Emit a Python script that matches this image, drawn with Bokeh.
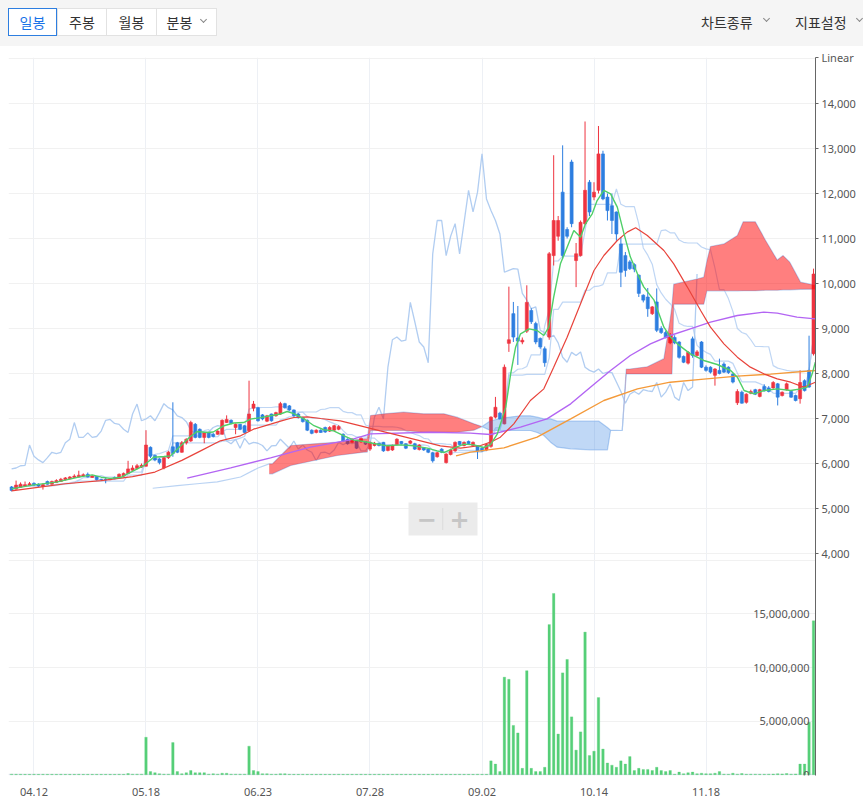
import numpy as np
import pandas as pd
from bokeh.plotting import figure
from bokeh.models import (Range1d, LinearAxis, FixedTicker, NumeralTickFormatter, Grid,
                          Label, BoxAnnotation, ColumnDataSource, Div)
from bokeh.layouts import column
from bokeh.embed import file_html
from bokeh.resources import INLINE

# ---------------- data ----------------
tab_labels = ["일봉", "주봉", "월봉", "분봉"]
menu_labels = ["차트종류", "지표설정"]

date_label_days = [5, 30, 55, 80, 105, 130, 155]
date_labels = ["04.12", "05.18", "06.23", "07.28", "09.02", "10.14", "11.18"]

price_ticks = [4000, 5000, 6000, 7000, 8000, 9000, 10000, 11000, 12000, 13000, 14000]
vol_label_ticks = [0, 5000000, 10000000, 15000000]
vol_grid_ticks = [0, 5000000, 10000000, 15000000, 20000000]

opens = [5480,5430,5470,5500,5510,5560,5540,5490,5600,5540,
         5580,5600,5640,5660,5690,5700,5720,5760,5690,5710,
         5650,5650,5640,5690,5680,5720,5780,5850,5890,5920,
         5940,6360,6180,6100,5900,6130,6370,6460,6250,6460,
         6500,6870,6760,6580,6690,6650,6650,6650,6910,6960,
         6800,6870,6840,6730,7230,7240,7080,6940,7100,7060,
         7100,7330,7280,7190,7100,7020,6960,6740,6690,6740,
         6800,6720,6740,6760,6650,6540,6470,6500,6480,6490,
         6320,6400,6450,6470,6290,6300,6420,6490,6440,6450,
         6440,6310,6350,6320,6240,6150,6320,6020,6200,6280,
         6490,6400,6490,6400,6390,6340,6300,6380,7030,7120,
         6880,8670,9330,8790,8700,8940,9400,9110,8780,8550,
         8810,10620,11050,12030,11200,12700,10510,10620,11330,12250,
         11920,12070,12880,11920,11730,11590,10880,10620,10480,10420,
         10185,9740,9700,9330,9590,9000,8910,8680,8800,8700,
         8380,8230,8770,8400,8700,8140,8140,7960,8070,8210,
         8140,7990,7350,7585,7360,7560,7640,7490,7710,7680,
         7680,7770,7510,7640,7600,7510,7440,7840,8070,8440]
highs = [5500,5620,5580,5600,5590,5580,5560,5560,5620,5620,
         5650,5680,5700,5720,5760,5840,5780,5800,5740,5720,
         5660,5700,5680,5710,5780,5800,6060,5960,5990,6000,
         6740,6380,6200,6120,6150,6280,7360,6480,6500,6560,
         6950,6900,6780,6700,6700,6680,6740,6980,7070,6980,
         6890,6880,6850,7840,7390,7260,7100,7080,7110,7150,
         7370,7350,7300,7200,7120,7040,6980,6760,6760,6760,
         6820,6830,6860,6850,6670,6560,6560,6520,6580,6500,
         6490,6480,6460,6480,6410,6420,6560,6500,6450,6520,
         6460,6430,6360,6330,6260,6260,6340,6230,6330,6490,
         6500,6490,6510,6490,6410,6360,6450,7050,7480,7150,
         8200,9930,9590,9500,8800,9960,9450,9150,8800,8600,
         10700,12850,11500,13070,11250,12750,10900,11400,13600,12300,
         12250,13500,12950,12000,12000,11600,11030,10700,10520,10450,
         10200,9760,9900,9500,9890,9050,8950,8900,8850,8720,
         8400,8500,8820,8520,8720,8180,8160,8120,8330,8250,
         8160,8000,7650,7620,7560,7640,7660,7660,7760,7720,
         7830,7790,7600,7800,7630,7530,8070,7870,8840,10330]
lows = [5380,5420,5460,5480,5500,5500,5480,5420,5530,5530,
        5570,5590,5620,5650,5680,5690,5700,5690,5680,5620,
        5620,5560,5630,5650,5670,5700,5770,5840,5870,5900,
        5930,6120,6050,5980,5870,6100,6150,6230,6240,6420,
        6480,6560,6560,6450,6560,6580,6640,6640,6900,6870,
        6650,6740,6680,6700,7160,6930,6960,6920,6930,7040,
        7080,7220,7170,7040,7000,6910,6720,6650,6670,6680,
        6680,6700,6720,6740,6480,6420,6450,6320,6460,6410,
        6280,6380,6380,6260,6270,6280,6400,6420,6320,6430,
        6300,6290,6280,6230,6020,6130,6230,6000,6180,6260,
        6400,6380,6420,6380,6100,6260,6280,6350,7000,6980,
        6870,8480,8700,8190,8650,8900,9100,8650,8550,8150,
        8750,10400,10950,10550,11000,11250,9920,10600,11300,11500,
        11850,12000,11850,11400,11100,10950,9920,10150,10300,10250,
        9700,9580,9260,9300,8920,8880,8780,8650,8650,8330,
        8230,8200,8350,8380,8120,8040,8000,7730,7980,8010,
        7990,7780,7300,7330,7330,7540,7520,7470,7600,7580,
        7660,7290,7490,7620,7460,7380,7330,7600,7680,8400]
closes = [5400,5520,5540,5530,5550,5520,5500,5530,5540,5600,
          5620,5650,5680,5700,5720,5740,5750,5700,5720,5640,
          5640,5640,5660,5660,5760,5780,5880,5900,5950,5960,
          6410,6160,6080,6020,6130,6250,6220,6250,6460,6540,
          6910,6580,6580,6680,6580,6600,6720,6960,6980,6890,
          6870,6760,6690,7100,7320,6950,6990,7060,6950,7130,
          7330,7240,7190,7060,7020,6930,6740,6670,6740,6690,
          6700,6800,6840,6820,6500,6440,6540,6340,6560,6430,
          6470,6450,6400,6280,6390,6400,6540,6440,6340,6500,
          6320,6410,6300,6250,6060,6240,6250,6210,6300,6470,
          6420,6470,6440,6470,6280,6280,6420,7030,7250,6990,
          8140,8750,8810,8720,8740,9580,9150,8700,8590,8240,
          10660,11400,11400,10620,11050,11330,10660,11360,12070,11590,
          12030,12880,11880,11620,11400,11100,10250,10290,10330,10320,
          9780,9630,9440,9480,8960,8910,8800,8850,8680,8360,
          8250,8470,8400,8480,8140,8070,8030,8100,8000,8030,
          8020,7810,7600,7340,7540,7600,7540,7640,7615,7600,
          7800,7475,7585,7770,7475,7400,7800,7620,7700,10210]
volumes_k = [60,50,50,40,40,50,40,50,40,40,
             40,50,40,40,40,50,40,40,40,40,
             40,40,40,40,50,40,120,60,60,60,
             3500,300,200,100,60,60,3000,300,100,200,
             400,200,200,200,60,100,60,150,150,60,
             60,60,60,2670,400,300,100,100,50,50,
             100,100,50,40,40,50,40,40,40,50,
             40,40,40,50,40,40,40,40,50,40,
             40,40,50,40,40,40,50,40,40,40,
             40,50,40,40,40,50,40,40,40,40,
             50,40,40,40,50,40,40,1300,1000,300,
             9100,8900,4600,3900,600,9700,600,300,300,700,
             14000,16900,3800,9500,10750,5400,2300,4000,13300,1800,
             2200,7200,2400,1100,900,700,1300,1000,1700,400,
             600,500,500,400,700,400,300,400,50,250,
             100,200,250,100,150,100,100,150,300,60,
             50,150,60,120,50,60,60,50,50,60,
             70,100,80,120,60,80,1000,1000,4900,14350]

# moving averages (day index, value)
ma5_days = [0,5,10,15,18,20,22,24.5,27.3,29.5,31.7,34,35.5,37.7,39.9,41.4,43.7,45,47.4,49.6,
            51.8,53.3,55.6,57.8,60,61.5,63,65.2,67.5,69.7,71.9,74.2,76.4,78.6,80.9,83.8,86.8,89.8,92.8,95,
            96.5,98.7,101,103.2,105.4,106.9,108.4,110.3,111.4,112.5,113.6,115.5,117.3,118.8,119.9,
            121,122.5,124,125.5,127,128.1,129.6,130.7,132.2,133.7,135.2,136.7,138.1,139.7,141.1,
            143.4,145.6,147.1,148.6,151.5,154.5,157.5,160.5,162,163.5,165.7,168,170.9,173.9,176.1,
            177.6,178.7,179.4]
ma5_vals = [5437,5526,5585,5696,5748,5696,5670,5696,5844,5955,6140,6156,6170,6390,6600,6710,6690,6700,6840,6900,
            6910,6985,7020,7060,7100,7155,7110,7000,6840,6750,6726,6615,6519,6490,6444,6393,6415,6393,6341,6281,
            6244,6341,6430,6415,6356,6420,6652,7252,7993,8585,8881,8993,8955,8844,9030,
            9696,10437,10807,11178,11030,11326,11548,11844,12067,11992,11696,11104,10593,10215,9926,
            9630,9030,8807,8659,8437,8289,8200,8067,7919,7622,7548,7622,7659,7622,7659,
            7696,7993,8252]
ma20_days = [0,5,12,20,27,32,38,42.2,46.6,51.1,54,57.8,60.8,63,66,69,73.4,77.9,82.3,86.8,
             91.3,95.7,100.2,104.7,106.9,109.1,112.1,115.8,118.8,121,124,127,130,132.2,135.2,
             137.4,139.3,141.9,145.6,147.8,150.8,153.8,156,159,162,164.9,167.9,170.9,173.9,176.8,179.4]
ma20_vals = [5390,5460,5550,5620,5710,5810,6070,6281,6504,6615,6763,6874,6963,7022,7037,7000,6948,6837,6726,6615,
             6504,6393,6341,6400,6474,6585,6881,7400,7659,8141,8807,9548,10289,10622,10956,
             11141,11237,11067,10733,10437,9926,9400,9030,8659,8363,8141,7993,7881,7807,7696,7807]
ma60_days = [39.2,48.9,57.8,66.7,75.6,80.1,93.5,102.4,106.9,113.6,119.5,124.8,129.2,133.7,138.1,
             142.6,147,151.5,156,162,167.9,170.9,175.3,179.4]
ma60_vals = [5674,5904,6126,6363,6526,6659,6696,6674,6644,6807,6993,7326,7696,8067,8400,
             8659,8844,8993,9141,9289,9363,9341,9252,9215]
ma120_days = [99.2,102.4,109.9,117.3,124.8,132.2,139.7,147,154.5,162,169.4,179.4]
ma120_vals = [6170,6252,6348,6585,6993,7400,7659,7807,7874,7941,7985,8067]

# Ichimoku leading spans
span_a_pre_days = [31.5, 37, 41.4, 45.9, 51.1, 55]
span_a_pre_vals = [5450, 5510, 5550, 5590, 5700, 5900]
span_days = [57.5,58.2,62.3,67.5,72.7,78.6,79.4,80.1,83.1,87.5,92,96.5,99.4,103.2,105.0,106.9,109.9,113.6,115.8,
             117.3,118.8,120.3,121.8,124.8,129.2,131.1,133.0,133.7,136.3,137.2,138,141.9,145.6,147.0,147.4,
             147.8,153.0,154.5,155.2,156.0,159.0,162.0,163.3,166.0,168.3,170.9,172.2,173.7,176.1,179.4]
span_a = [5993,5993,6400,6437,6474,6548,6550,7067,7104,7141,7104,7104,7030,6881,6820,6733,6733,6733,6733,
          6690,6622,6474,6363,6326,6304,6304,6304,6733,6733,8100,8100,8150,8330,9200,9500,
          9985,10100,10141,10500,10822,10880,11067,11370,11370,10956,10520,10620,10474,10030,9960]
span_b = [5770,5770,5955,6067,6178,6252,6255,6733,6733,6733,6696,6696,6696,6740,6820,6950,7015,7059,7059,
          7030,6993,6993,6941,6941,6941,6941,6800,6740,6733,7990,7990,7990,7990,7990,7990,
          9541,9541,9541,9837,9837,9837,9837,9840,9840,9850,9850,9860,9860,9870,9874]

# ---------------- styling ----------------
RED = "#ee3440"
BLUE = "#2d7ee0"
VOL_GREEN = "#56cf78"
LIGHT_BLUE = "#a9c8f0"
FONT = "Noto Sans"
KFONT = "Noto Sans CJK KR"
W = 863
BAR_H = 46

# ---------------- top bar (HTML) ----------------
def chevron(left, top):
    return ('<span style="position:absolute;left:%dpx;top:%dpx;width:5px;height:5px;z-index:5;'
            'border-right:1px solid #888;border-bottom:1px solid #888;transform:rotate(45deg);"></span>'
            % (left, top))

tab_left = [8, 57, 106, 156]
tab_right = [57, 106, 156, 216]
parts = ['<div style="position:relative;width:%dpx;height:%dpx;background:#f5f5f5;'
         'font-family:\'%s\';overflow:hidden;">' % (W, BAR_H, KFONT)]
for i, (lab, l, r) in enumerate(zip(tab_labels, tab_left, tab_right)):
    sel = i == 0
    border = "1px solid #2d7ee0" if sel else "1px solid #e2e2e2"
    color = "#1a73e8" if sel else "#333"
    pad = "padding-right:14px;" if i == 3 else ""
    parts.append('<div style="position:absolute;left:%dpx;top:8px;width:%dpx;height:28px;box-sizing:border-box;'
                 'border:%s;background:#fff;color:%s;font-size:14px;line-height:26px;text-align:center;%s'
                 'z-index:%d;">%s</div>' % (l, r - l + (0 if sel else 1), border, color, pad, 2 if sel else 1, lab))
parts.append(chevron(201, 17))
parts.append('<div style="position:absolute;left:701px;top:12px;font-size:14px;line-height:20px;color:#333;">%s</div>'
             % menu_labels[0])
parts.append(chevron(764, 16))
parts.append('<div style="position:absolute;left:795px;top:12px;font-size:14px;line-height:20px;color:#333;">%s</div>'
             % menu_labels[1])
parts.append(chevron(857, 16))
parts.append('</div>')
bar = Div(text="".join(parts), width=W, height=BAR_H, margin=(0, 0, 0, 0))

# ---------------- main chart ----------------
X0, X1 = -0.69, 179.44
P0, P1 = -933, 15022
V0, V1 = -65000, 66850000

p = figure(width=W, height=806 - BAR_H, x_range=Range1d(X0, X1), y_range=Range1d(P0, P1),
           toolbar_location=None, output_backend="svg",
           x_axis_location=None, y_axis_location=None,
           min_border_left=8, min_border_right=48, min_border_top=11, min_border_bottom=31,
           outline_line_color=None, background_fill_color="white", border_fill_color="white")
p.extra_y_ranges = {"vol": Range1d(V0, V1)}
p.center = [r for r in p.center if not isinstance(r, Grid)]

p.add_layout(Grid(dimension=0, ticker=FixedTicker(ticks=date_label_days),
                  grid_line_color="#edf0f5", grid_line_width=1))
p.add_layout(Grid(dimension=1, ticker=FixedTicker(ticks=price_ticks + [P1 - 20]),
                  grid_line_color="#f1f1f1", grid_line_width=1))
p.add_layout(Grid(dimension=1, y_range_name="vol", ticker=FixedTicker(ticks=vol_grid_ticks[1:]),
                  grid_line_color="#f1f1f1", grid_line_width=1))
p.add_layout(Grid(dimension=1, y_range_name="vol", ticker=FixedTicker(ticks=[0]),
                  grid_line_color="#dde3ec", grid_line_width=1.5))

yax = LinearAxis(ticker=FixedTicker(ticks=price_ticks + [P1]),
                 formatter=NumeralTickFormatter(format="0,0"),
                 major_label_overrides={P1: "Linear"},
                 axis_line_color="#666666", major_tick_line_color="#666666",
                 major_tick_out=3, major_tick_in=0, minor_tick_line_color=None,
                 major_label_text_font_size="11px", major_label_text_color="#555555",
                 major_label_text_font=FONT, major_label_standoff=3)
p.add_layout(yax, "right")
xax = LinearAxis(ticker=FixedTicker(ticks=date_label_days),
                 major_label_overrides={d: s for d, s in zip(date_label_days, date_labels)},
                 axis_line_color=None, major_tick_line_color=None, minor_tick_line_color=None,
                 major_label_text_font_size="11px", major_label_text_color="#555555",
                 major_label_text_font=FONT, major_label_standoff=6)
p.add_layout(xax, "below")

# volume scale labels (kept inside the panel so they are not cut at the window edge)
for v in vol_label_ticks:
    p.add_layout(Label(x=X1, y=v, y_range_name="vol", x_offset=-6, text=f"{v:,}",
                       text_baseline="middle", text_align="right", text_font_size="11px",
                       text_color="#555555", text_font=FONT))

df = pd.DataFrame(dict(day=np.arange(len(closes)), open=opens, high=highs, low=lows,
                       close=closes, vol=np.array(volumes_k) * 1000))
df["top"] = df[["open", "close"]].max(axis=1)
df["bottom"] = df[["open", "close"]].min(axis=1)

# Ichimoku conversion / base / lagging lines derived from the OHLC data
tenkan = (df.high.rolling(9, min_periods=1).max() + df.low.rolling(9, min_periods=1).min()) / 2
kijun = (df.high.rolling(26, min_periods=1).max() + df.low.rolling(26, min_periods=1).min()) / 2
p.line(df.day, tenkan, line_color=LIGHT_BLUE, line_width=1.2, line_alpha=0.75)
p.line(df.day, kijun, line_color=LIGHT_BLUE, line_width=1.2, line_alpha=0.75)
p.line(df.day[:-26].values, df.close[26:].values, line_color=LIGHT_BLUE, line_width=1.3, line_alpha=0.9)
p.line(span_a_pre_days + span_days, span_a_pre_vals + span_a, line_color=LIGHT_BLUE,
       line_width=1.2, line_alpha=0.8)
p.line(span_days, span_b, line_color=LIGHT_BLUE, line_width=1.2, line_alpha=0.8)

# candles
for mask, col in ((df.close >= df.open, RED), (df.close < df.open, BLUE)):
    src = ColumnDataSource(df[mask])
    p.segment(x0="day", y0="low", x1="day", y1="high", source=src, line_color=col, line_width=1)
    p.vbar(x="day", width=0.68, top="top", bottom="bottom", source=src,
           fill_color=col, line_color=col, line_width=0.6)

# volume
p.vbar(x=df.day, width=0.55, top=df.vol, bottom=0, y_range_name="vol",
       fill_color=VOL_GREEN, line_color=VOL_GREEN, line_width=0.3)

# cloud
sa = np.array(span_a, dtype=float)
sb = np.array(span_b, dtype=float)
hi = np.maximum(sa, sb)
p.varea(x=span_days, y1=sb, y2=hi, fill_color="#ff0000", fill_alpha=0.5)
p.varea(x=span_days, y1=sa, y2=hi, fill_color=BLUE, fill_alpha=0.3)

# moving averages
p.line(ma120_days, ma120_vals, line_color="#f49a3a", line_width=1.4)
p.line(ma60_days, ma60_vals, line_color="#b365f3", line_width=1.4)
p.line(ma20_days, ma20_vals, line_color="#e8433b", line_width=1.2)
p.line(ma5_days, ma5_vals, line_color="#4fcf68", line_width=1.4)

# zoom control
p.add_layout(BoxAnnotation(left=88.6, right=104.0, bottom=4400, top=5133,
                           fill_color="#ebebeb", fill_alpha=1, line_color=None))
p.add_layout(BoxAnnotation(left=96.15, right=96.35, bottom=4520, top=5010,
                           fill_color="#d8d8d8", fill_alpha=1, line_color=None))
p.add_layout(Label(x=92.6, y=4767, text="−", text_align="center", text_baseline="middle",
                   text_font_size="24px", text_font_style="bold", text_color="#c6c6c6",
                   text_font="DejaVu Sans"))
p.add_layout(Label(x=100.0, y=4767, text="+", text_align="center", text_baseline="middle",
                   text_font_size="24px", text_font_style="bold", text_color="#c6c6c6",
                   text_font="DejaVu Sans"))

layout = column(bar, p, spacing=0)
open("out.html", "w").write(file_html(layout, INLINE))
